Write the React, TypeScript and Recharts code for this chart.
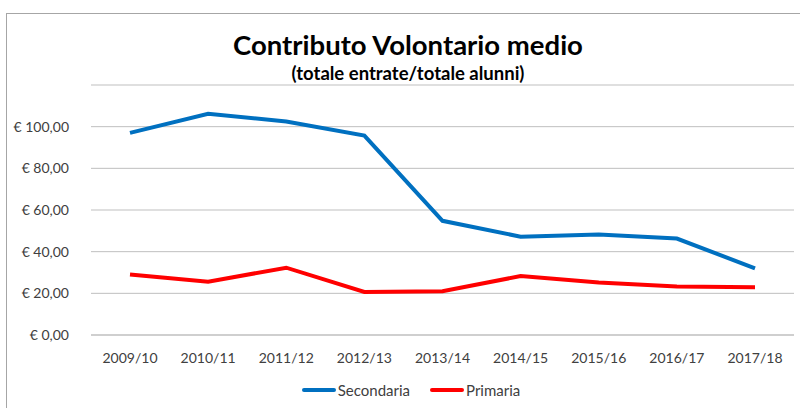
import React from 'react';
import { LineChart, Line, XAxis, YAxis, CartesianGrid } from 'recharts';

const years = ['2009/10', '2010/11', '2011/12', '2012/13', '2013/14', '2014/15', '2015/16', '2016/17', '2017/18'];
const secondaria = [97, 106.2, 102.5, 95.7, 54.8, 47.2, 48.2, 46.3, 32];
const primaria = [29, 25.6, 32.3, 20.7, 21, 28.3, 25.2, 23.3, 22.9];
const yTicks = [0, 20, 40, 60, 80, 100];

const data = years.map((year, i) => ({ year, secondaria: secondaria[i], primaria: primaria[i] }));

const font = 'Lato, "Open Sans", sans-serif';
const BLUE = '#0070C0';
const RED = '#FF0000';

const euro = (v: number) => `€ ${v.toFixed(2).replace('.', ',')}`;

export default function App() {
  return (
    <div style={{ position: 'absolute', left: 0, top: 0, width: 800, height: 408, background: '#fff', overflow: 'hidden', fontFamily: font }}>
      <div style={{ position: 'absolute', left: 6, top: 13, width: 820, height: 420, border: '1px solid #A6A6A6' }} />
      <div style={{ position: 'absolute', left: 0, top: 28, width: 816, textAlign: 'center', fontSize: 27.5, fontWeight: 700, color: '#000' }}>
        Contributo Volontario medio
      </div>
      <div style={{ position: 'absolute', left: 0, top: 62, width: 816, textAlign: 'center', fontSize: 18.5, fontWeight: 700, color: '#000' }}>
        (totale entrate/totale alunni)
      </div>
      <div style={{ position: 'absolute', left: 0, top: 0 }}>
        <LineChart width={800} height={408} data={data} margin={{ top: 85, right: 6, bottom: 43, left: 8 }}>
          <CartesianGrid vertical={false} stroke="#BFBFBF" strokeWidth={1} />
          <XAxis
            dataKey="year"
            height={30}
            padding={{ left: 39, right: 39 }}
            axisLine={{ stroke: '#BFBFBF' }}
            tickLine={false}
            tickMargin={12}
            tick={{ fontSize: 14, fill: '#404040', fontFamily: font }}
          />
          <YAxis
            width={83}
            domain={[0, 120]}
            ticks={yTicks}
            axisLine={false}
            tickLine={false}
            tickMargin={16}
            tickFormatter={euro}
            tick={{ fontSize: 14, fill: '#404040', fontFamily: font }}
          />
          <Line type="linear" dataKey="secondaria" stroke={BLUE} strokeWidth={4} dot={false} isAnimationActive={false} />
          <Line type="linear" dataKey="primaria" stroke={RED} strokeWidth={4} dot={false} isAnimationActive={false} />
        </LineChart>
      </div>
      <div style={{ position: 'absolute', left: 0, top: 381, width: 822, display: 'flex', justifyContent: 'center', fontSize: 15, color: '#404040' }}>
        {[{ label: 'Secondaria', color: BLUE }, { label: 'Primaria', color: RED }].map((item) => (
          <div key={item.label} style={{ display: 'flex', alignItems: 'center', margin: '0 10px' }}>
            <div style={{ width: 34, height: 4, borderRadius: 2, background: item.color, marginRight: 2 }} />
            <span>{item.label}</span>
          </div>
        ))}
      </div>
    </div>
  );
}
